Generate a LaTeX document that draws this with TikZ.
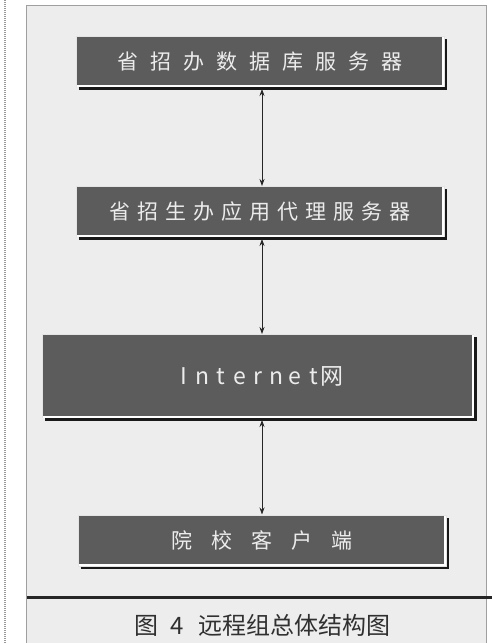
\documentclass[tikz,border=0pt]{standalone}
\usepackage{fontspec}
\newfontfamily\cjk{Noto Sans CJK SC}
\usetikzlibrary{arrows.meta}
\definecolor{boxgray}{HTML}{5C5C5C}
\definecolor{boxedge}{HTML}{E4E4E4}
\definecolor{boxtext}{HTML}{ECECEC}
\definecolor{framebg}{HTML}{EDEDED}
\definecolor{capcol}{HTML}{303030}
\makeatletter
\def\myspread#1#2{\def\my@cw{#1}\my@loop#2\relax}
\def\my@loop#1{\ifx\relax#1\else\makebox[\my@cw]{#1}\expandafter\my@loop\fi}
\makeatother
\newcommand\bevel[1]{%
  \draw[line width=2pt, draw=white] ([shift={(1pt,1.5pt)}]#1.south west) -- ([shift={(-1.5pt,1.5pt)}]#1.south east) -- ([shift={(-1.5pt,-1pt)}]#1.north east);
  \draw[line width=2.5pt, draw=black!90] ([shift={(3pt,-1.3pt)}]#1.south west) -- ([shift={(1.3pt,-1.3pt)}]#1.south east) -- ([shift={(1.3pt,-3pt)}]#1.north east);
}
\tikzset{
  box/.style={rectangle, inner sep=0pt, fill=boxgray, draw=boxedge, line width=1pt, text=boxtext, font=\cjk\fontsize{21}{25}\selectfont},
  link/.style={draw=black!85, line width=0.8pt, {Stealth[length=7pt,width=5pt]}-{Stealth[length=7pt,width=5pt]}},
  frameline/.style={draw=gray!75, line width=0.8pt},
}
\begin{document}
\begin{tikzpicture}[x=1pt,y=-1pt]
\useasboundingbox (0,0) rectangle (492,643);
\fill[white] (0,0) rectangle (492,643);
\fill[framebg] (26,5) rectangle (486,650);
\draw[frameline] (26,650) -- (26,5) -- (486,5) -- (486,650);
\draw[draw=gray!80, line width=1.2pt, dash pattern=on 1pt off 1pt] (5,0) -- (5,643);

\node[box, minimum width=368pt, minimum height=50pt] (b1) at (260,61.5) {\myspread{33pt}{省招办数据库服务器}};
\node[box, minimum width=368pt, minimum height=50pt] (b2) at (260,211.5) {\myspread{28pt}{省招生办应用代理服务器}};
\node[box, minimum width=431pt, minimum height=83pt, font=\cjk\fontsize{23}{27}\selectfont] (b3) at (258,376) {\myspread{18.5pt}{Internet网}};
\node[box, minimum width=368pt, minimum height=51pt] (b4) at (262,540.5) {\myspread{40pt}{院校客户端}};
\bevel{b1}
\bevel{b2}
\bevel{b3}
\bevel{b4}

\coordinate (ax) at (262,0);
\draw[link, shorten <=2pt] (b1.south -| ax) -- (b2.north -| ax);
\draw[link, shorten <=2pt] (b2.south -| ax) -- (b3.north -| ax);
\draw[link, shorten <=2pt] (b3.south -| ax) -- (b4.north -| ax);

\draw[line width=3pt, draw=black!85] (27,597) -- (492,597);
\node[font=\cjk\fontsize{24}{28}\selectfont, text=capcol, inner sep=0pt] (cap) at (262.5,625) {图\hspace{12pt}4\hspace{14pt}远程组总体结构图};
\end{tikzpicture}
\end{document}
